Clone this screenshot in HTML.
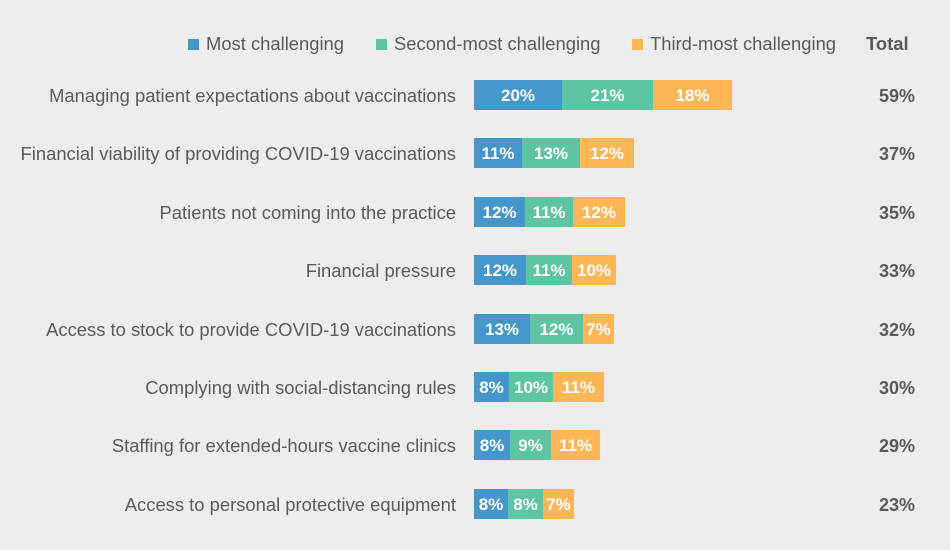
<!DOCTYPE html><html><head><style>
body{margin:0;width:950px;height:550px;background:#ecedec;font-family:"Liberation Sans",sans-serif;position:relative;overflow:hidden;color:#5a5a5a}
.l{position:absolute;right:494px;font-size:18.4px;white-space:nowrap;line-height:20px}
.t{position:absolute;right:35px;font-size:18px;font-weight:bold;line-height:20px}
.s{position:absolute;height:30px;line-height:31px;text-align:center;color:#fff;font-size:17px;font-weight:bold;overflow:visible;white-space:nowrap}
.b{background:#4597cb}.g{background:#5dc4a4}.o{background:#feb756}
.lg{position:absolute;top:34px;font-size:18.4px;line-height:20px;white-space:nowrap}
.sq{display:inline-block;width:11px;height:11px;margin-right:7px;vertical-align:0px}
</style></head><body>
<div class="lg" style="left:188px"><span class="sq b"></span>Most challenging</div>
<div class="lg" style="left:376px"><span class="sq g"></span>Second-most challenging</div>
<div class="lg" style="left:632px"><span class="sq o"></span>Third-most challenging</div>
<div class="lg" style="left:866px;font-weight:bold">Total</div>
<div id="c"></div>
<script>
var rows=[["Managing patient expectations about vaccinations",[474,562,653,732],["20%","21%","18%"],"59%"],
["Financial viability of providing COVID-19 vaccinations",[474,522,580,634],["11%","13%","12%"],"37%"],
["Patients not coming into the practice",[474,525,573,625],["12%","11%","12%"],"35%"],
["Financial pressure",[474,526,572,616],["12%","11%","10%"],"33%"],
["Access to stock to provide COVID-19 vaccinations",[474,530,583,614],["13%","12%","7%"],"32%"],
["Complying with social-distancing rules",[474,509,553,604],["8%","10%","11%"],"30%"],
["Staffing for extended-hours vaccine clinics",[474,510,551,600],["8%","9%","11%"],"29%"],
["Access to personal protective equipment",[474,508,543,574],["8%","8%","7%"],"23%"]];
var h="",cl=["b","g","o"];
rows.forEach(function(r,i){var y=80+i*58.4;
h+='<div class="l" style="top:'+(y+6)+'px">'+r[0]+'</div>';
h+='<div class="t" style="top:'+(y+6)+'px">'+r[3]+'</div>';
for(var k=0;k<3;k++)h+='<div class="s '+cl[k]+'" style="top:'+y+'px;left:'+r[1][k]+'px;width:'+(r[1][k+1]-r[1][k])+'px">'+r[2][k]+'</div>';});
document.getElementById("c").innerHTML=h;
</script></body></html>
